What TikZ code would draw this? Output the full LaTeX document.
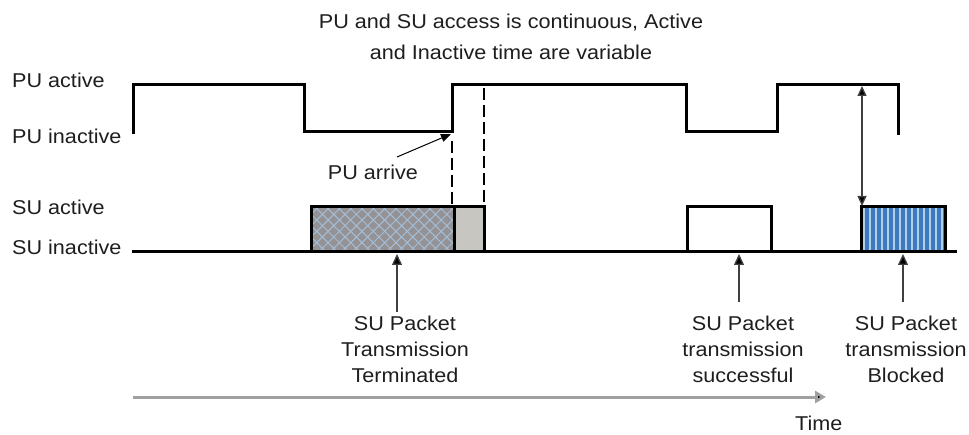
\documentclass[tikz,border=0pt]{standalone}
\usepackage{fontspec}
\setmainfont[FakeStretch=1.08]{Liberation Sans}
\usetikzlibrary{arrows.meta,patterns.meta}
\definecolor{hatchgray}{RGB}{148,146,148}
\definecolor{hatchblue}{RGB}{165,190,215}
\definecolor{lightbox}{RGB}{200,198,192}
\definecolor{stripeblue}{RGB}{62,122,190}
\definecolor{stripelight}{RGB}{178,206,235}
\definecolor{axisgray}{RGB}{160,160,160}
\definecolor{txt}{RGB}{30,30,30}
\begin{document}
\begin{tikzpicture}[x=1pt,y=-1pt,
  wave/.style={line width=3pt, line cap=rect},
  lbl/.style={font=\fontsize{20}{25}\selectfont, text=txt, inner sep=0pt},
  blk/.style={font=\fontsize{20}{26}\selectfont, text=txt, inner sep=0pt, align=center, anchor=north},
  uparrow/.style={line width=1.3pt, draw=black!75, -{Triangle[length=11pt,width=10pt,fill=black]}},
  thinarrow/.style={line width=1pt, -{Triangle[length=10pt,width=8pt]}},
  dblarrow/.style={line width=1.3pt, draw=black!75, {Triangle[length=10pt,width=9pt,fill=black]}-{Triangle[length=10pt,width=9pt,fill=black]}},
  guide/.style={line width=1.5pt, dash pattern=on 12pt off 5pt},
  axis/.style={line width=3pt, draw=axisgray, -{Triangle[length=11pt,width=12pt,fill=black]}}
]
\useasboundingbox (0,0) rectangle (969,435);

% title
\node[lbl, anchor=base] (t1) at (511,29) {PU and SU access is continuous, Active};
\node[lbl, anchor=base] (t2) at (511,60) {and Inactive time are variable};

% left labels
\node[lbl, anchor=base west] (pua) at (12,88) {PU active};
\node[lbl, anchor=base west] (pui) at (12,144) {PU inactive};
\node[lbl, anchor=base west] (sua) at (12,215) {SU active};
\node[lbl, anchor=base west] (sui) at (12,255) {SU inactive};

% SU boxes
\fill[hatchgray] (311,207) rectangle (454,252);
\fill[pattern={Lines[angle=45,distance=8pt,line width=1pt]}, pattern color=hatchblue] (311,207) rectangle (454,252);
\fill[pattern={Lines[angle=-45,distance=8pt,line width=1pt]}, pattern color=hatchblue] (311,207) rectangle (454,252);
\fill[lightbox] (454,207) rectangle (484,252);
\fill[stripeblue] (861,207) rectangle (945,252);
\fill[pattern={Lines[angle=90,distance=6pt,line width=2.4pt]}, pattern color=stripelight] (861,207) rectangle (945,252);

% PU waveform
\draw[wave] (133,133) -- (133,85) -- (304,85) -- (304,132) -- (452,132) -- (452,85)
  -- (686,85) -- (686,132) -- (777,132) -- (777,85) -- (898,85) -- (898,134);

% SU waveform
\draw[wave] (133,252) -- (955,252);
\draw[wave] (311,252) -- (311,207) -- (484,207) -- (484,252);
\draw[wave] (454,207) -- (454,252);
\draw[wave] (687,252) -- (687,207) -- (771,207) -- (771,252);
\draw[wave] (861,252) -- (861,207) -- (945,207) -- (945,252);

% dashed guides
\coordinate (g1a) at (452,141);
\coordinate (g1b) at (452,206);
\coordinate (g2a) at (484,88);
\coordinate (g2b) at (484,206);
\draw[guide] (g1a) -- (g1b);
\draw[guide] (g2a) -- (g2b);

% PU arrive
\node[lbl, anchor=base] (arr) at (373,180) {PU arrive};
\coordinate (arrs) at (397,157);
\coordinate (arrt) at (451,134);
\draw[thinarrow] (arrs) -- (arrt);

% blocked double arrow
\coordinate (da) at (862,86);
\coordinate (db) at (862,206);
\draw[dblarrow] (da) -- (db);

% bottom texts
\node[blk] (term) at (405,315.5) {SU Packet\\Transmission\\Terminated};
\node[blk] (succ) at (743,315.5) {SU Packet\\transmission\\successful};
\node[blk] (blok) at (906,315.5) {SU Packet\\transmission\\Blocked};

\coordinate (u1s) at (397,312);
\coordinate (u1t) at (397,254);
\coordinate (u2s) at (739,302);
\coordinate (u2t) at (739,254);
\coordinate (u3s) at (903,302);
\coordinate (u3t) at (903,254);
\draw[uparrow] (u1s) -- (u1t);
\draw[uparrow] (u2s) -- (u2t);
\draw[uparrow] (u3s) -- (u3t);

% time axis
\coordinate (ax0) at (133,397);
\coordinate (ax1) at (826,397);
\draw[axis] (ax0) -- (ax1);
\node[lbl, anchor=base west] (time) at (795,430) {Time};
\end{tikzpicture}
\end{document}
